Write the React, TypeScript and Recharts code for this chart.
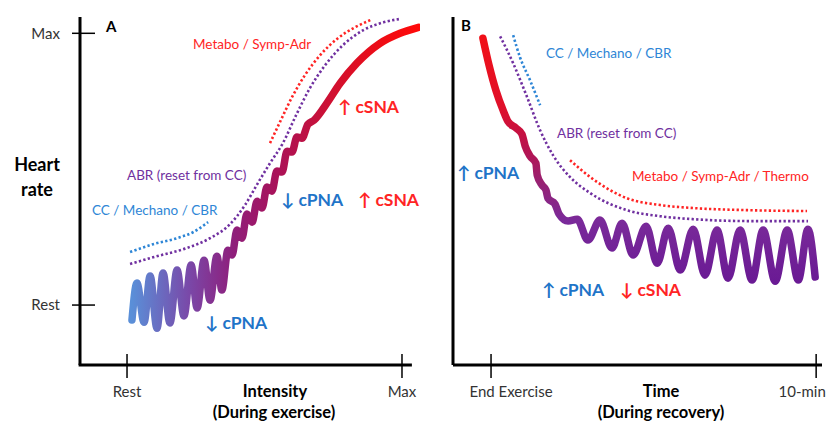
import React from 'react';
import { LineChart, Line, XAxis, YAxis, ReferenceLine, Customized } from 'recharts';

// Heart rate scale: 0 = Rest, 100 = Max (shared by both panels)
const hrTickValues = [0, 100];
const hrTickLabels = ['Rest', 'Max'];

// Panel A: exercise intensity, 0 = Rest, 100 = Max
const intensityTickValues = [0, 100];
const intensityTickLabels = ['Rest', 'Max'];

// Panel B: recovery time in minutes
const recoveryTickValues = [0, 10];
const recoveryTickLabels = ['End Exercise', '10-min'];

// Panel A – heart rate response during exercise (spring = vagal oscillation)
const exerciseHR = [
  { x: 1.8, y: -5.5 }, { x: 3.6, y: 8.1 }, { x: 6.2, y: -6.3 }, { x: 8.4, y: 10.7 },
  { x: 10.9, y: -8.5 }, { x: 13.1, y: 11.8 }, { x: 15.6, y: -6.6 }, { x: 18.2, y: 12.9 },
  { x: 20.7, y: -4.0 }, { x: 23.3, y: 14.7 }, { x: 25.5, y: -1.1 }, { x: 28.0, y: 16.5 },
  { x: 30.2, y: 1.8 }, { x: 32.7, y: 18.0 }, { x: 34.5, y: 5.5 }, { x: 36.7, y: 20.2 },
  { x: 38.2, y: 18.4 }, { x: 40.0, y: 27.6 }, { x: 41.8, y: 24.6 }, { x: 43.6, y: 33.5 },
  { x: 45.5, y: 30.5 }, { x: 47.3, y: 38.2 }, { x: 49.1, y: 35.7 }, { x: 50.9, y: 43.4 },
  { x: 52.7, y: 41.9 }, { x: 54.5, y: 49.3 }, { x: 56.4, y: 49.0 }, { x: 58.2, y: 56.6 },
  { x: 60.0, y: 56.3 }, { x: 61.8, y: 61.8 }, { x: 63.6, y: 61.4 }, { x: 65.8, y: 66.5 },
  { x: 68.0, y: 68.0 }, { x: 72.7, y: 74.3 }, { x: 77.5, y: 81.6 }, { x: 83.6, y: 89.0 },
  { x: 92.0, y: 96.3 }, { x: 99.3, y: 100.0 }, { x: 106.0, y: 102.2 },
];
const exerciseCC = [
  { x: 1.1, y: 19.5 }, { x: 9.5, y: 22.4 }, { x: 18.2, y: 24.6 }, { x: 24.0, y: 26.8 }, { x: 29.5, y: 30.5 },
];
const exerciseABR = [
  { x: 1.1, y: 15.1 }, { x: 9.5, y: 17.6 }, { x: 21.8, y: 21.0 }, { x: 30.2, y: 24.6 },
  { x: 37.5, y: 29.8 }, { x: 42.9, y: 36.8 }, { x: 47.6, y: 44.9 }, { x: 52.0, y: 52.2 },
  { x: 56.7, y: 59.6 }, { x: 61.5, y: 69.9 }, { x: 66.5, y: 79.8 }, { x: 72.0, y: 88.2 },
  { x: 78.5, y: 95.6 }, { x: 85.8, y: 101.1 }, { x: 93.1, y: 104.0 }, { x: 99.3, y: 105.3 },
];
const exerciseMetabo = [
  { x: 52.0, y: 59.6 }, { x: 55.6, y: 67.3 }, { x: 60.0, y: 76.5 }, { x: 64.7, y: 84.6 },
  { x: 70.2, y: 91.9 }, { x: 76.7, y: 98.2 }, { x: 82.9, y: 102.2 }, { x: 89.1, y: 105.1 },
];

// Panel B – heart rate response during recovery
const recoveryHR = [
  { x: -0.25, y: 98.2 }, { x: -0.06, y: 88.2 }, { x: 0.15, y: 79.0 }, { x: 0.37, y: 71.7 },
  { x: 0.52, y: 67.6 }, { x: 0.77, y: 65.1 }, { x: 0.95, y: 62.9 }, { x: 1.05, y: 58.5 },
  { x: 1.2, y: 54.8 }, { x: 1.38, y: 52.2 }, { x: 1.42, y: 47.8 }, { x: 1.57, y: 44.1 },
  { x: 1.69, y: 42.3 }, { x: 1.75, y: 39.3 }, { x: 1.97, y: 37.1 }, { x: 2.09, y: 33.5 },
  { x: 2.37, y: 30.9 }, { x: 2.65, y: 31.6 }, { x: 2.98, y: 23.9 }, { x: 3.35, y: 31.3 },
  { x: 3.72, y: 21.0 }, { x: 4.03, y: 30.1 }, { x: 4.37, y: 18.4 }, { x: 4.77, y: 29.0 },
  { x: 5.11, y: 15.4 }, { x: 5.45, y: 28.3 }, { x: 5.82, y: 12.9 }, { x: 6.22, y: 27.9 },
  { x: 6.58, y: 11.0 }, { x: 6.95, y: 27.6 }, { x: 7.29, y: 9.9 }, { x: 7.66, y: 27.6 },
  { x: 8.03, y: 9.2 }, { x: 8.37, y: 27.6 }, { x: 8.74, y: 8.8 }, { x: 9.11, y: 27.6 },
  { x: 9.45, y: 9.2 }, { x: 9.75, y: 27.9 }, { x: 9.97, y: 10.3 },
];
const recoveryCC = [
  { x: 0.68, y: 99.3 }, { x: 0.89, y: 91.2 }, { x: 1.2, y: 82.7 }, { x: 1.51, y: 73.5 },
];
const recoveryABR = [
  { x: 0.28, y: 98.9 }, { x: 0.68, y: 89.0 }, { x: 1.11, y: 76.5 }, { x: 1.51, y: 64.3 },
  { x: 1.91, y: 55.1 }, { x: 2.43, y: 47.1 }, { x: 3.05, y: 41.2 }, { x: 4.18, y: 34.9 },
  { x: 5.2, y: 32.7 }, { x: 6.22, y: 31.6 }, { x: 7.97, y: 30.9 }, { x: 9.75, y: 30.9 },
];
const recoveryMetabo = [
  { x: 2.43, y: 53.3 }, { x: 3.05, y: 47.1 }, { x: 3.66, y: 42.3 }, { x: 4.18, y: 39.3 },
  { x: 5.2, y: 36.8 }, { x: 6.22, y: 35.7 }, { x: 7.97, y: 34.9 }, { x: 9.72, y: 34.6 },
];

const FONT = "Lato, 'Open Sans', 'DejaVu Sans', sans-serif";
const BLUE = '#2e86d6';
const BLUE_BOLD = '#1f74c8';
const PURPLE = '#7030a0';
const RED = '#ff2424';
const GREY = '#333333';
const AXIS_FS = 15;
const TITLE_FS = 16.5;

const HR_DOMAIN: [number, number] = [-22.06, 106];

const dotted = (color: string) => ({
  stroke: color,
  strokeWidth: 2.6,
  strokeDasharray: '2.3 2.3',
  dot: false as const,
  isAnimationActive: false,
  type: 'monotone' as const,
});

const YTick = (props: any) => {
  const { x, y, payload } = props;
  const i = hrTickValues.indexOf(payload.value);
  return (
    <g>
      <line x1={x - 8} x2={x + 15} y1={y} y2={y} stroke="#000" strokeWidth={1.5} />
      <text x={x - 20} y={y} dy="0.36em" textAnchor="end" fontSize={AXIS_FS} fill={GREY} fontFamily={FONT}>
        {hrTickLabels[i]}
      </text>
    </g>
  );
};

const makeXTick = (values: number[], labels: string[], offsets: number[]) => (props: any) => {
  const { x, y, payload } = props;
  const i = values.indexOf(payload.value);
  return (
    <g>
      <line x1={x} x2={x} y1={y - 11} y2={y + 13} stroke="#000" strokeWidth={1.5} />
      <text x={x + offsets[i]} y={y + 32} textAnchor="middle" fontSize={AXIS_FS} fill={GREY} fontFamily={FONT}>
        {labels[i]}
      </text>
    </g>
  );
};

const XTickA = makeXTick(intensityTickValues, intensityTickLabels, [0, 0]);
const XTickB = makeXTick(recoveryTickValues, recoveryTickLabels, [20, -14]);

const T = (p: { x: number; y: number; c: string; s?: number; b?: boolean; a?: string; children: React.ReactNode }) => (
  <text
    x={p.x}
    y={p.y}
    fill={p.c}
    fontSize={p.s ?? 13.5}
    fontWeight={p.b ? 700 : 400}
    textAnchor={(p.a as any) ?? 'start'}
    fontFamily={FONT}
  >
    {p.children}
  </text>
);

const BIG = 17.5;

const LabelsA = () => (
  <g>
    <T x={106} y={32} c="#000" s={15} b>A</T>
    <T x={193} y={49} c={RED}>Metabo / Symp-Adr</T>
    <T x={338} y={113} c={RED} s={BIG} b>↑ cSNA</T>
    <T x={127} y={180} c={PURPLE}>ABR (reset from CC)</T>
    <T x={281} y={206} c={BLUE_BOLD} s={BIG} b>↓ cPNA</T>
    <T x={358} y={206} c={RED} s={BIG} b>↑ cSNA</T>
    <T x={92} y={215} c={BLUE}>CC / Mechano / CBR</T>
    <T x={205} y={329} c={BLUE_BOLD} s={BIG} b>↓ cPNA</T>
    <T x={37} y={171} c="#000" s={18} b a="middle">Heart</T>
    <T x={37} y={196} c="#000" s={18} b a="middle">rate</T>
    <T x={275} y={397} c="#000" s={TITLE_FS} b a="middle">Intensity</T>
    <T x={274} y={418} c="#000" s={TITLE_FS} b a="middle">(During exercise)</T>
  </g>
);

const LabelsB = () => (
  <g>
    <T x={41} y={31} c="#000" s={15} b>B</T>
    <T x={126} y={58} c={BLUE}>CC / Mechano / CBR</T>
    <T x={137} y={138} c={PURPLE}>ABR (reset from CC)</T>
    <T x={212} y={181} c={RED}>Metabo / Symp-Adr / Thermo</T>
    <T x={37} y={179} c={BLUE_BOLD} s={BIG} b>↑ cPNA</T>
    <T x={122} y={296} c={BLUE_BOLD} s={BIG} b>↑ cPNA</T>
    <T x={200} y={296} c={RED} s={BIG} b>↓ cSNA</T>
    <T x={241} y={397} c="#000" s={TITLE_FS} b a="middle">Time</T>
    <T x={241} y={418} c="#000" s={TITLE_FS} b a="middle">(During recovery)</T>
  </g>
);

export default function App() {
  return (
    <div style={{ position: 'absolute', left: 0, top: 0, width: 829, height: 421, background: '#fff' }}>
      <div style={{ position: 'absolute', left: 0, top: 0 }}>
        <LineChart width={420} height={421} margin={{ top: 17, right: 0, bottom: 0, left: 0 }}>
          <defs>
            <linearGradient id="gradA" x1="0" y1="0" x2="1" y2="0">
              <stop offset="0%" stopColor="#5a8fd8" />
              <stop offset="20%" stopColor="#7a48a8" />
              <stop offset="35%" stopColor="#8e1f7c" />
              <stop offset="50%" stopColor="#a8125a" />
              <stop offset="70%" stopColor="#d01030" />
              <stop offset="88%" stopColor="#f00c14" />
              <stop offset="100%" stopColor="#ff0a0a" />
            </linearGradient>
          </defs>
          <XAxis
            type="number"
            dataKey="x"
            domain={[-17.1, 106.55]}
            allowDataOverflow
            ticks={intensityTickValues}
            height={56}
            axisLine={false}
            tickLine={false}
            tickSize={0}
            tickMargin={0}
            tick={<XTickA />}
            interval={0}
          />
          <YAxis
            type="number"
            dataKey="y"
            domain={HR_DOMAIN}
            allowDataOverflow
            ticks={hrTickValues}
            width={80}
            axisLine={{ stroke: '#000', strokeWidth: 3 }}
            tickLine={false}
            tickSize={0}
            tickMargin={0}
            tick={<YTick />}
            interval={0}
          />
          <ReferenceLine
            segment={[{ x: -17.6, y: HR_DOMAIN[0] }, { x: 103.6, y: HR_DOMAIN[0] }]}
            stroke="#000"
            strokeWidth={3}
            ifOverflow="visible"
          />
          <Line data={exerciseCC} dataKey="y" {...dotted(BLUE)} />
          <Line data={exerciseABR} dataKey="y" {...dotted(PURPLE)} />
          <Line data={exerciseMetabo} dataKey="y" {...dotted(RED)} />
          <Line
            data={exerciseHR}
            dataKey="y"
            type="monotone"
            stroke="url(#gradA)"
            strokeWidth={7.5}
            strokeLinecap="round"
            strokeLinejoin="round"
            dot={false}
            isAnimationActive={false}
          />
          <Customized component={<LabelsA />} />
        </LineChart>
      </div>
      <div style={{ position: 'absolute', left: 420, top: 0 }}>
        <LineChart width={409} height={421} margin={{ top: 17, right: 7, bottom: 0, left: 0 }}>
          <defs>
            <linearGradient id="gradB" x1="0" y1="0" x2="0" y2="1">
              <stop offset="0%" stopColor="#f01018" />
              <stop offset="28%" stopColor="#e0102a" />
              <stop offset="45%" stopColor="#b8124e" />
              <stop offset="60%" stopColor="#962274" />
              <stop offset="75%" stopColor="#7a2a9a" />
              <stop offset="100%" stopColor="#6a1a94" />
            </linearGradient>
          </defs>
          <XAxis
            type="number"
            dataKey="x"
            domain={[-1.17, 10.18]}
            allowDataOverflow
            ticks={recoveryTickValues}
            height={56}
            axisLine={{ stroke: '#000', strokeWidth: 3 }}
            tickLine={false}
            tickSize={0}
            tickMargin={0}
            tick={<XTickB />}
            interval={0}
          />
          <YAxis
            type="number"
            dataKey="y"
            domain={HR_DOMAIN}
            allowDataOverflow
            width={33}
            axisLine={{ stroke: '#000', strokeWidth: 3 }}
            tick={false}
            tickLine={false}
          />
          <Line data={recoveryCC} dataKey="y" {...dotted(BLUE)} />
          <Line data={recoveryABR} dataKey="y" {...dotted(PURPLE)} />
          <Line data={recoveryMetabo} dataKey="y" {...dotted(RED)} />
          <Line
            data={recoveryHR}
            dataKey="y"
            type="monotone"
            stroke="url(#gradB)"
            strokeWidth={7.5}
            strokeLinecap="round"
            strokeLinejoin="round"
            dot={false}
            isAnimationActive={false}
          />
          <Customized component={<LabelsB />} />
        </LineChart>
      </div>
    </div>
  );
}
